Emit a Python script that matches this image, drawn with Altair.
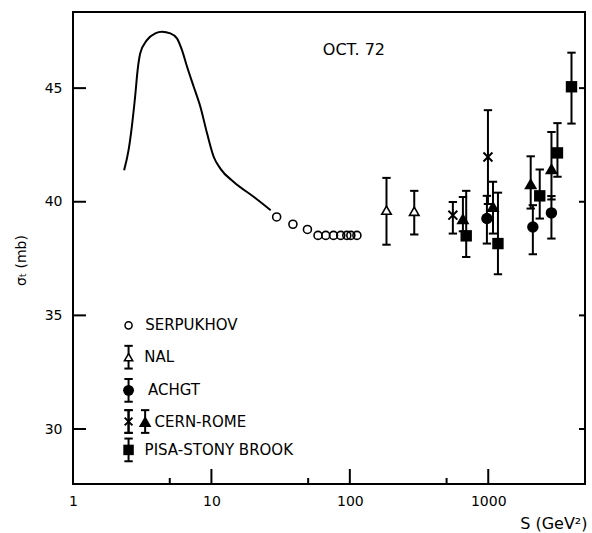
import altair as alt
import pandas as pd

# ---- data ----
curve_s = [2.34, 2.52, 2.66, 2.81, 2.93, 3.06, 3.42, 3.93, 4.39, 5.05, 5.64, 6.13,
           6.67, 7.45, 8.32, 9.31, 10.4, 11.6, 14.5, 20.3, 26.8]
curve_sigma = [41.39, 42.27, 43.30, 44.62, 45.79, 46.53, 47.11, 47.41, 47.48, 47.41,
               47.19, 46.67, 45.94, 45.06, 44.18, 43.0, 41.97, 41.46, 40.87, 40.21, 39.63]

serp_s = [29.6, 38.8, 49.4, 58.9, 67.0, 76.2, 86.0, 95.1, 101.7, 112.5]
serp_sigma = [39.33, 39.01, 38.78, 38.52, 38.52, 38.52, 38.52, 38.52, 38.52, 38.52]

nal_s = [184, 292]
nal_sigma = [39.63, 39.58]
nal_lo = [38.11, 38.56]
nal_hi = [41.05, 40.48]

achgt_s = [978, 2100, 2860]
achgt_sigma = [39.26, 38.89, 39.51]
achgt_lo = [38.16, 37.69, 38.38]
achgt_hi = [40.26, 39.85, 40.25]

cernx_s = [555, 995]
cernx_sigma = [39.41, 41.97]
cernx_lo = [38.6, 39.9]
cernx_hi = [39.99, 44.03]

cernt_s = [656, 1082, 2026, 2862]
cernt_sigma = [39.26, 39.8, 40.8, 41.46]
cernt_lo = [38.7, 38.6, 39.7, 40.1]
cernt_hi = [40.21, 40.88, 42.0, 43.07]

pisa_s = [693, 1175, 2355, 3162, 3994]
pisa_sigma = [38.5, 38.16, 40.26, 42.15, 45.06]
pisa_lo = [37.57, 36.81, 39.26, 41.1, 43.44]
pisa_hi = [40.48, 40.4, 41.42, 43.46, 46.56]

x_major = [10, 100, 1000]
x_minor = [5, 50, 500, 5000]
y_ticks = [30, 35, 40, 45]
x_labels = [1, 10, 100, 1000]

# legend (drawn inside plot, in data coordinates)
leg_labels = ["SERPUKHOV", "NAL", "ACHGT", "CERN-ROME", "PISA-STONY BROOK"]
leg_marker_s = 2.52
leg_sigma = [34.56, 33.16, 31.70, 30.33, 29.08]
leg_text_s = [3.32, 3.27, 3.48, 3.88, 3.29]
leg_tri2_s = 3.32

XDOM = [1, 5000]
YDOM = [27.58, 48.35]
W, H = 512, 472
FONT = "DejaVu Sans"
black = "black"

xs = alt.Scale(type="log", domain=XDOM, nice=False)
ys = alt.Scale(domain=YDOM, nice=False, zero=False)

x_axis = alt.Axis(values=x_labels, format="d", domain=False, ticks=False, grid=False,
                  labelFontSize=14, labelFont=FONT, labelColor=black, labelPadding=10,
                  labelFlush=False,
                  title="S (GeV²)", titleFont=FONT, titleFontSize=16,
                  titleFontWeight="normal", titleColor=black,
                  titleAnchor="end", titleAlign="right", titleX=514, titleY=44,
                  titleBaseline="alphabetic")
y_axis = alt.Axis(values=y_ticks, domain=False, ticks=False, grid=False,
                  labelFontSize=14, labelFont=FONT, labelColor=black, labelPadding=11,
                  title="σₜ (mb)", titleFont=FONT, titleFontSize=14,
                  titleFontWeight="normal", titleColor=black, titleAngle=270,
                  titleAlign="center", titleBaseline="middle",
                  titleX=-52, titleY=248)

X = lambda f="s": alt.X(f, type="quantitative", scale=xs, axis=x_axis)
Y = lambda f="sigma": alt.Y(f, type="quantitative", scale=ys, axis=y_axis)

def df(**kw):
    return pd.DataFrame(kw)

layers = []

# inward ticks
ytk = df(sigma=y_ticks)
layers.append(alt.Chart(ytk).mark_rule(color=black, strokeWidth=2).encode(
    y=Y(), x=alt.value(0), x2=alt.value(13)))
layers.append(alt.Chart(ytk).mark_rule(color=black, strokeWidth=2).encode(
    y=Y(), x=alt.value(W), x2=alt.value(W - 6)))
layers.append(alt.Chart(df(s=x_major)).mark_rule(color=black, strokeWidth=2).encode(
    x=X(), y=alt.value(H), y2=alt.value(H - 15)))
layers.append(alt.Chart(df(s=x_minor)).mark_rule(color=black, strokeWidth=2).encode(
    x=X(), y=alt.value(H), y2=alt.value(H - 6)))

# curve
layers.append(alt.Chart(df(s=curve_s, sigma=curve_sigma)).mark_line(
    color=black, strokeWidth=2, interpolate="monotone").encode(x=X(), y=Y()))

# serpukhov
layers.append(alt.Chart(df(s=serp_s, sigma=serp_sigma)).mark_point(
    shape="circle", size=64, filled=False, color=black, strokeWidth=1.6, opacity=1).encode(x=X(), y=Y()))

CAP = "M-1,0L1,0"
XSHAPE = "M-1,-1L1,1M-1,1L1,-1"

def errbars(s, lo, hi):
    d = df(s=s, lo=lo, hi=hi)
    rule = alt.Chart(d).mark_rule(color=black, strokeWidth=2).encode(
        x=X(), y=Y("lo"), y2="hi:Q")
    c1 = alt.Chart(d).mark_point(shape=CAP, size=70, filled=False, color=black,
                                 strokeWidth=2, opacity=1).encode(x=X(), y=Y("lo"))
    c2 = alt.Chart(d).mark_point(shape=CAP, size=70, filled=False, color=black,
                                 strokeWidth=2, opacity=1).encode(x=X(), y=Y("hi"))
    return [rule, c1, c2]

for s_, lo_, hi_ in [(nal_s, nal_lo, nal_hi), (achgt_s, achgt_lo, achgt_hi),
                     (cernx_s, cernx_lo, cernx_hi), (cernt_s, cernt_lo, cernt_hi),
                     (pisa_s, pisa_lo, pisa_hi)]:
    layers += errbars(s_, lo_, hi_)

# markers
layers.append(alt.Chart(df(s=nal_s, sigma=nal_sigma)).mark_point(
    shape="triangle-up", size=90, filled=True, fill="white", stroke=black, strokeWidth=1.6,
    opacity=1).encode(x=X(), y=Y()))
layers.append(alt.Chart(df(s=achgt_s, sigma=achgt_sigma)).mark_point(
    shape="circle", size=130, filled=True, color=black, opacity=1).encode(x=X(), y=Y()))
layers.append(alt.Chart(df(s=cernx_s, sigma=cernx_sigma)).mark_point(
    shape=XSHAPE, size=80, filled=False, color=black, strokeWidth=2, opacity=1).encode(x=X(), y=Y()))
layers.append(alt.Chart(df(s=cernt_s, sigma=cernt_sigma)).mark_point(
    shape="triangle-up", size=170, filled=True, color=black, opacity=1).encode(x=X(), y=Y()))
layers.append(alt.Chart(df(s=pisa_s, sigma=pisa_sigma)).mark_point(
    shape="square", size=130, filled=True, color=black, opacity=1).encode(x=X(), y=Y()))

# legend
lm = leg_marker_s
layers.append(alt.Chart(df(s=[lm], sigma=[leg_sigma[0]])).mark_point(
    shape="circle", size=50, filled=False, color=black, strokeWidth=1.5, opacity=1).encode(x=X(), y=Y()))
leg_err_s = [lm, lm, lm, lm, leg_tri2_s, lm]
leg_err_mid = [leg_sigma[1], leg_sigma[2], leg_sigma[3], leg_sigma[3], leg_sigma[3], leg_sigma[4]]
layers += errbars(leg_err_s, [m - 0.5 for m in leg_err_mid], [m + 0.5 for m in leg_err_mid])
layers.append(alt.Chart(df(s=[lm], sigma=[leg_sigma[1]])).mark_point(
    shape="triangle-up", size=70, filled=True, fill="white", stroke=black, strokeWidth=1.5,
    opacity=1).encode(x=X(), y=Y()))
layers.append(alt.Chart(df(s=[lm], sigma=[leg_sigma[2]])).mark_point(
    shape="circle", size=120, filled=True, color=black, opacity=1).encode(x=X(), y=Y()))
layers.append(alt.Chart(df(s=[lm], sigma=[leg_sigma[3]])).mark_point(
    shape=XSHAPE, size=60, filled=False, color=black, strokeWidth=2, opacity=1).encode(x=X(), y=Y()))
layers.append(alt.Chart(df(s=[leg_tri2_s], sigma=[leg_sigma[3]])).mark_point(
    shape="triangle-up", size=160, filled=True, color=black, opacity=1).encode(x=X(), y=Y()))
layers.append(alt.Chart(df(s=[lm], sigma=[leg_sigma[4]])).mark_point(
    shape="square", size=110, filled=True, color=black, opacity=1).encode(x=X(), y=Y()))
layers.append(alt.Chart(df(s=leg_text_s, sigma=leg_sigma, label=leg_labels)).mark_text(
    align="left", baseline="middle", font=FONT, fontSize=15, color=black).encode(
    x=X(), y=Y(), text="label:N"))

# date label
layers.append(alt.Chart(df(s=[107], sigma=[46.67], label=["OCT.  72"])).mark_text(
    align="center", baseline="middle", font=FONT, fontSize=16, color=black).encode(
    x=X(), y=Y(), text="label:N"))

chart = alt.layer(*layers).properties(
    width=W, height=H,
    background="white",
    autosize=alt.AutoSizeParams(type="none"),
    padding={"left": 73, "top": 12, "right": 7, "bottom": 49},
).configure_view(stroke=black, strokeWidth=2)

chart.save("out.html", embed_options={"renderer": "svg", "actions": False})
